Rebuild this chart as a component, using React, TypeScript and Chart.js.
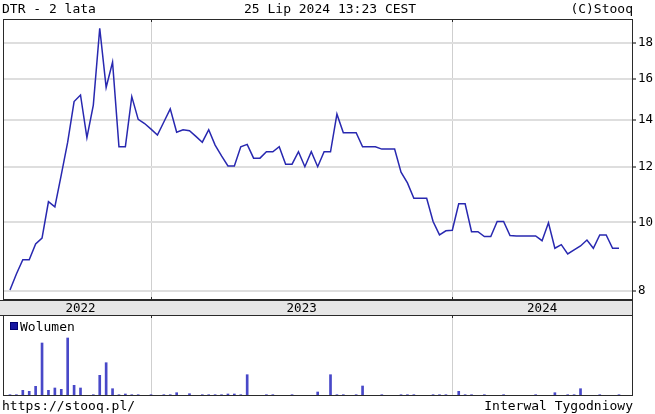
import React, { useEffect, useRef } from 'react';
import { Chart, registerables } from 'chart.js';

Chart.register(...registerables);

// ---- texts ----
const TITLE_TEXT = 'DTR - 2 lata';
const DATE_TEXT = '25 Lip 2024 13:23 CEST';
const SOURCE_TEXT = '(C)Stooq';
const URL_TEXT = 'https://stooq.pl/';
const INTERVAL_TEXT = 'Interwal Tygodniowy';
const VOLUME_LABEL = 'Wolumen';

// ---- data (weekly bars) ----
const closePrices = [
  8.02, 8.45, 8.85, 8.85, 9.32, 9.5, 10.7, 10.52, 11.68, 13.0,
  14.85, 15.17, 13.2, 14.68, 18.87, 15.55, 16.89, 12.81, 12.81, 15.09,
  14.01, 13.82, 13.57, 13.31, 13.89, 14.5, 13.43, 13.54, 13.5, 13.25,
  13.0, 13.54, 12.88, 12.43, 12.03, 12.03, 12.81, 12.91, 12.34, 12.34,
  12.6, 12.6, 12.81, 12.1, 12.1, 12.6, 12.0, 12.6, 12.0, 12.6,
  12.6, 14.25, 13.41, 13.41, 13.41, 12.81, 12.81, 12.81, 12.71, 12.71,
  12.71, 11.79, 11.38, 10.82, 10.82, 10.82, 10.03, 9.6, 9.73, 9.75,
  10.63, 10.63, 9.7, 9.7, 9.55, 9.55, 10.03, 10.03, 9.58, 9.57,
  9.57, 9.57, 9.57, 9.42, 9.99, 9.19, 9.3, 9.02, 9.14, 9.26,
  9.44, 9.19, 9.6, 9.6, 9.19, 9.19,
];

// volume (thousand shares)
const volumes = [
  1.3, 1.3, 5.7, 4.7, 9.7, 53, 5.7, 8, 6.7, 58,
  10.7, 8, 0, 1.3, 20.7, 33.3, 7.3, 1.3, 2, 1.3,
  1.3, 0, 1.3, 0, 1.3, 1.3, 3.3, 0, 2.3, 0,
  1.3, 1.3, 1.3, 1.3, 2, 2, 1.3, 21.3, 0, 0,
  1.3, 1.3, 0, 0, 1.3, 0, 0, 0, 4, 0,
  21.3, 1.3, 1.3, 0, 1.3, 10, 0, 0, 1.3, 0,
  0, 1.3, 1.3, 1.3, 0, 0, 1.3, 1.3, 1.3, 0,
  4.7, 1.3, 1.3, 0, 1.3, 0, 0, 1.3, 0, 0,
  0, 0, 1.3, 0, 0, 3.3, 0, 1.3, 1.3, 7.3,
  0, 0, 1.3, 0, 0, 1.3,
];

const yearLabels = ['2022', '2023', '2024'];
const yearStartBar = [0, 22, 69];
const priceTicks = [8, 10, 12, 14, 16, 18];

// ---- layout / style ----
const FONT = "'DejaVu Sans Mono', monospace";
const W = 655;
const PLOT_LEFT = 3;
const PLOT_RIGHT = 632;
const X_MIN = -1.09;
const X_MAX = 97.03;
const Y_MIN = 7.76;
const Y_MAX = 19.45;
const VOL_MAX = 81;
const LINE_COLOR = '#2828b0';
const VOL_COLOR = '#4848c8';
const FRAME_COLOR = '#2a2a2a';
const VGRID = '#cfcfcf';
const HGRID = '#dedede';

const xPx = (i: number) =>
  PLOT_LEFT + ((i - X_MIN) / (X_MAX - X_MIN)) * (PLOT_RIGHT - PLOT_LEFT);

function makeFramePlugin(kind: 'price' | 'volume') {
  return {
    id: 'frame_' + kind,
    afterDraw(chart: any) {
      const { ctx, chartArea: a, scales } = chart;
      ctx.save();
      ctx.strokeStyle = FRAME_COLOR;
      ctx.lineWidth = 1;
      ctx.strokeRect(a.left + 0.5, a.top + 0.5, a.right - a.left, a.bottom - a.top - 1);
      ctx.beginPath();
      for (const b of yearStartBar.slice(1)) {
        const x = Math.round(scales.x.getPixelForValue(b)) + 0.5;
        ctx.moveTo(x, a.top);
        ctx.lineTo(x, a.top + 3);
        if (kind === 'price') {
          ctx.moveTo(x, a.bottom - 3);
          ctx.lineTo(x, a.bottom);
        }
      }
      ctx.stroke();
      ctx.restore();
    },
  };
}

const xScale = (gridColor: string) => ({
  type: 'linear' as const,
  min: X_MIN,
  max: X_MAX,
  offset: false,
  ticks: { display: false },
  grid: { color: gridColor, lineWidth: 1, drawTicks: false, offset: false },
  border: { display: false },
  afterBuildTicks: (s: any) => {
    s.ticks = yearStartBar.slice(1).map((v) => ({ value: v }));
  },
  afterFit: (s: any) => {
    s.height = 0;
    s.paddingLeft = 0;
    s.paddingRight = 0;
    s.paddingTop = 0;
    s.paddingBottom = 0;
  },
});

export default function App() {
  const priceRef = useRef<HTMLCanvasElement>(null);
  const volRef = useRef<HTMLCanvasElement>(null);

  useEffect(() => {
    Chart.defaults.font.family = FONT;
    const price = new Chart(priceRef.current as HTMLCanvasElement, {
      type: 'line',
      data: {
        datasets: [
          {
            data: closePrices.map((v, i) => ({ x: i, y: v })),
            borderColor: LINE_COLOR,
            borderWidth: 1.5,
            pointRadius: 0,
            tension: 0,
            fill: false,
          },
        ],
      },
      options: {
        animation: false,
        responsive: false,
        devicePixelRatio: 1,
        layout: { padding: { left: PLOT_LEFT, top: 19, right: 0, bottom: 0 } },
        plugins: { legend: { display: false }, tooltip: { enabled: false } },
        scales: {
          x: xScale(VGRID),
          y: {
            type: 'logarithmic',
            position: 'right',
            min: Y_MIN,
            max: Y_MAX,
            afterBuildTicks: (s: any) => {
              s.ticks = priceTicks.map((v) => ({ value: v }));
            },
            afterFit: (s: any) => {
              s.width = W - PLOT_RIGHT;
              s.paddingTop = 0;
              s.paddingBottom = 0;
            },
            ticks: {
              callback: (v: any) => String(v),
              color: '#000',
              font: { family: FONT, size: 12.5 },
              padding: 2,
              autoSkip: false,
            },
            grid: { color: HGRID, lineWidth: 2, tickColor: '#000', tickLength: 4, tickWidth: 1 },
            border: { display: false },
          },
        },
      },
      plugins: [makeFramePlugin('price')],
    } as any);

    const vol = new Chart(volRef.current as HTMLCanvasElement, {
      type: 'bar',
      data: {
        datasets: [
          {
            data: volumes.map((v, i) => ({ x: i, y: v })),
            backgroundColor: VOL_COLOR,
            borderWidth: 0,
            barThickness: 2,
          },
        ],
      },
      options: {
        animation: false,
        responsive: false,
        devicePixelRatio: 1,
        layout: { padding: { left: PLOT_LEFT, top: 15, right: W - PLOT_RIGHT, bottom: 18 } },
        plugins: { legend: { display: false }, tooltip: { enabled: false } },
        scales: {
          x: xScale(VGRID),
          y: { display: false, min: 0, max: VOL_MAX },
        },
      },
      plugins: [makeFramePlugin('volume')],
    } as any);

    return () => {
      price.destroy();
      vol.destroy();
    };
  }, []);

  const textBase: React.CSSProperties = {
    position: 'absolute',
    fontFamily: FONT,
    fontSize: 13,
    lineHeight: '15px',
    color: '#000',
    whiteSpace: 'nowrap',
  };

  const segs = yearLabels.map((lab, i) => {
    const start = i === 0 ? xPx(0) : xPx(yearStartBar[i]);
    const end = i < yearLabels.length - 1 ? xPx(yearStartBar[i + 1]) : PLOT_RIGHT;
    return { lab, center: (start + end) / 2 };
  });

  return (
    <div
      style={{
        position: 'absolute',
        left: 0,
        top: 0,
        width: W,
        height: 414,
        background: '#fff',
        overflow: 'hidden',
      }}
    >
      <canvas ref={priceRef} width={W} height={300} style={{ position: 'absolute', left: 0, top: 0 }} />
      <canvas ref={volRef} width={W} height={114} style={{ position: 'absolute', left: 0, top: 300 }} />

      <div style={{ ...textBase, left: 2, top: 1 }}>{TITLE_TEXT}</div>
      <div style={{ ...textBase, left: 244, top: 1 }}>{DATE_TEXT}</div>
      <div style={{ ...textBase, right: W - 633, top: 1 }}>{SOURCE_TEXT}</div>

      <div
        style={{
          position: 'absolute',
          left: 0,
          top: 300,
          width: PLOT_RIGHT + 1,
          height: 16,
          boxSizing: 'border-box',
          background: '#e6e6e6',
          borderTop: `1px solid ${FRAME_COLOR}`,
          borderBottom: `1px solid ${FRAME_COLOR}`,
          borderRight: `1px solid ${FRAME_COLOR}`,
        }}
      />
      {segs.map((s) => (
        <div
          key={s.lab}
          style={{
            ...textBase,
            fontSize: 12.5,
            top: 300,
            left: s.center - 40,
            width: 80,
            textAlign: 'center',
          }}
        >
          {s.lab}
        </div>
      ))}

      <div
        style={{
          position: 'absolute',
          left: 10,
          top: 322,
          width: 6,
          height: 6,
          background: '#1616a0',
          border: '0.5px solid #000070',
        }}
      />
      <div style={{ ...textBase, left: 20, top: 318.5 }}>{VOLUME_LABEL}</div>

      <div style={{ ...textBase, left: 2, top: 397.5 }}>{URL_TEXT}</div>
      <div style={{ ...textBase, right: W - 633, top: 397.5 }}>{INTERVAL_TEXT}</div>
    </div>
  );
}
